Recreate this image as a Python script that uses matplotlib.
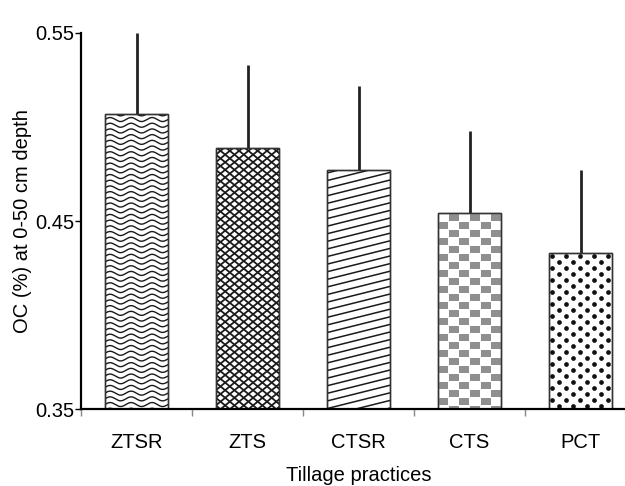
import matplotlib.pyplot as plt
import numpy as np
from matplotlib.transforms import IdentityTransform
from matplotlib.patches import Rectangle

# datos
practicas = ['ZTSR', 'ZTS', 'CTSR', 'CTS', 'PCT']
oc_medio = [0.507, 0.489, 0.477, 0.454, 0.433]
oc_error = [0.043, 0.044, 0.045, 0.044, 0.044]
base = 0.35

plt.rcParams['font.family'] = ['Liberation Sans', 'DejaVu Sans']

fig = plt.figure(figsize=(6.25, 4.86), dpi=100)
ax = fig.add_axes([0.1296, 0.1584, 0.888, 0.7737])

x = np.arange(1, len(practicas) + 1)
ancho = 0.57
alturas = np.array(oc_medio) - base
barras = ax.bar(x, alturas, width=ancho, bottom=base, color='white',
                edgecolor='#333333', linewidth=1.0, zorder=2)
ax.errorbar(x, oc_medio, yerr=[np.zeros(len(x)), oc_error], fmt='none',
            ecolor='#222222', elinewidth=2.0, capsize=0, zorder=1)

ax.set_xlim(0.5, 5.5)
ax.set_ylim(0.35, 0.55)


def caja_px(b):
    (x0, y0), (x1, y1) = ax.transData.transform([[b.get_x(), b.get_y()],
                                                 [b.get_x() + b.get_width(), b.get_y() + b.get_height()]])
    return x0, y0, x1, y1


def recortar(artistas, b):
    for a in artistas:
        a.set_clip_path(b)


T = IdentityTransform()
color_linea = '#1a1a1a'

# ==========================================
# TEXTURAS DE LAS BARRAS
# ==========================================
# ZTSR: ondas
b = barras[0]
x0, y0, x1, y1 = caja_px(b)
xs = np.linspace(x0 - 5, x1 + 5, 300)
lineas = []
for yy in np.arange(y1, y0 - 6, -5.7):
    l, = ax.plot(xs, yy + 2.0 * np.sin(2 * np.pi * (xs - x0) / 21.0), color=color_linea,
                 lw=1.0, transform=T, zorder=3)
    lineas.append(l)
recortar(lineas, b)

# ZTS: rombos
b = barras[1]
x0, y0, x1, y1 = caja_px(b)
alto_r, ancho_r = 7.6, 9.3
pend = alto_r / ancho_r
xs = np.array([x0 - 5, x1 + 5])
lineas = []
for c in np.arange(y0 - 80, y1 + 80, alto_r):
    for s in (pend, -pend):
        l, = ax.plot(xs, c + s * (xs - x0), color=color_linea, lw=1.3,
                     transform=T, zorder=3)
        lineas.append(l)
recortar(lineas, b)

# CTSR: lineas diagonales suaves
b = barras[2]
x0, y0, x1, y1 = caja_px(b)
xs = np.array([x0 - 5, x1 + 5])
lineas = []
for c in np.arange(y0 - 30, y1 + 10, 7.6):
    l, = ax.plot(xs, c + 0.25 * (xs - x0), color=color_linea, lw=1.1,
                 transform=T, zorder=3)
    lineas.append(l)
recortar(lineas, b)

# CTS: tablero gris (desde arriba)
b = barras[3]
x0, y0, x1, y1 = caja_px(b)
lado_x, lado_y = 10.6, 8.0
cuadros = []
for i, cx in enumerate(np.arange(x0, x1, lado_x)):
    for j, cy in enumerate(np.arange(y1, y0 - lado_y, -lado_y)):
        if (i + j) % 2 == 1:
            r = Rectangle((cx + 0.3, cy - lado_y + 0.3), lado_x - 0.6, lado_y - 0.6,
                          facecolor='#8f8f8f', edgecolor='none', transform=T, zorder=3)
            ax.add_artist(r)
            cuadros.append(r)
recortar(cuadros, b)

# PCT: puntos
b = barras[4]
x0, y0, x1, y1 = caja_px(b)
px, py = [], []
for j, cy in enumerate(np.arange(y1 - 3, y0 - 3, -6.0)):
    desf = 0 if j % 2 == 0 else 7
    for cx in np.arange(x0 + 3 + desf, x1 + 7, 14):
        px.append(cx)
        py.append(cy)
l, = ax.plot(px, py, 'o', ms=3.4, color='#111111', mec='none',
             transform=T, zorder=3)
recortar([l], b)

# borde encima de las texturas
for b in barras:
    ax.add_patch(Rectangle((b.get_x(), b.get_y()), b.get_width(), b.get_height(),
                           fill=False, edgecolor='#333333', lw=1.0, zorder=4))

# ==========================================
# EJES
# ==========================================
ax.spines['top'].set_visible(False)
ax.spines['right'].set_visible(False)
ax.spines['left'].set_linewidth(1.6)
ax.spines['bottom'].set_linewidth(1.6)
ax.spines['left'].set_zorder(5)
ax.spines['bottom'].set_zorder(5)

ax.set_yticks([0.35, 0.45, 0.55])
ax.set_yticklabels(['0.35', '0.45', '0.55'], fontsize=14.5)
ax.tick_params(axis='y', length=4, width=1, pad=1)

ax.set_xticks(x)
ax.set_xticklabels(practicas, fontsize=14.5)
ax.set_xticks(np.arange(0.5, 5.6, 1), minor=True)
ax.tick_params(axis='x', which='major', length=0, pad=17)
ax.tick_params(axis='x', which='minor', length=5, width=1, color='#888888')

ax.set_xlabel('Tillage practices', fontsize=14.5, labelpad=10)
ax.set_ylabel('OC (%) at 0-50 cm depth', fontsize=14.5, labelpad=2)

fig.savefig('out.png', dpi=100)
